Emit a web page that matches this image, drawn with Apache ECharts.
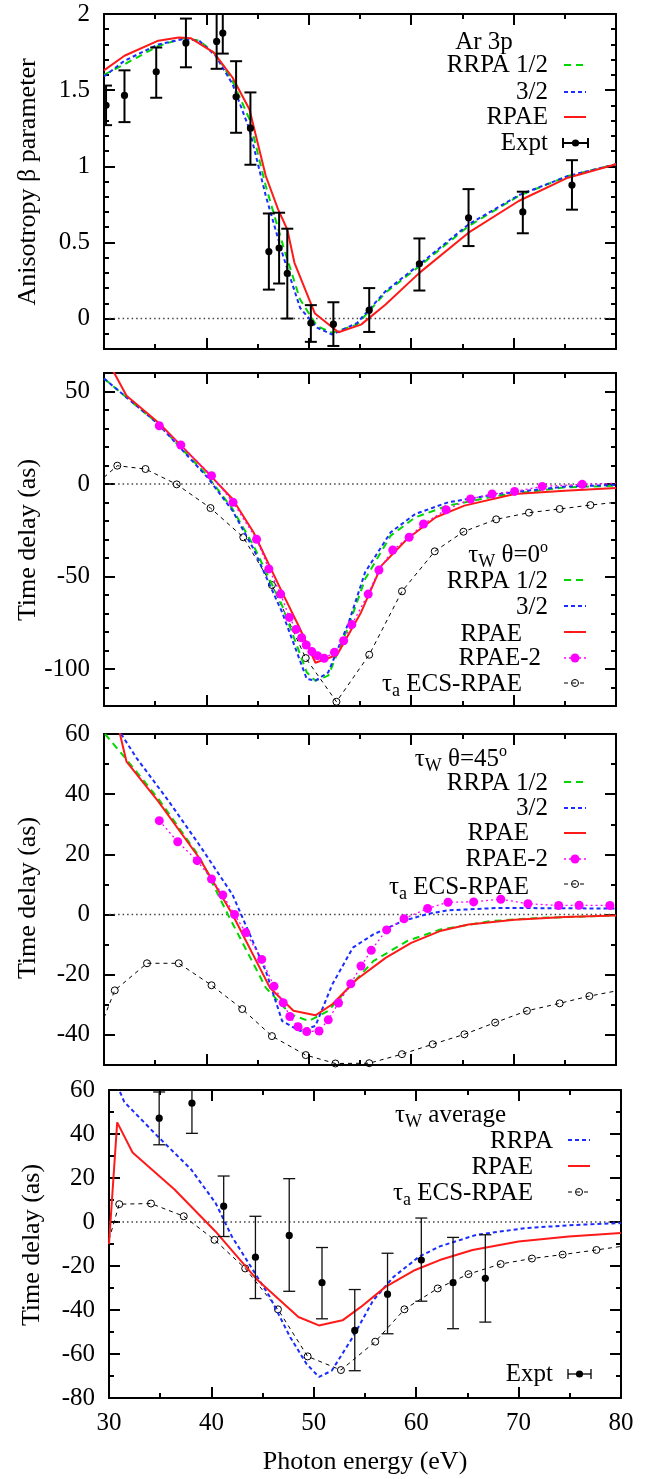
<!DOCTYPE html>
<html>
<head>
<meta charset="utf-8">
<script src="https://cdn.jsdelivr.net/npm/echarts@6/dist/echarts.min.js"></script>
<style>
  html, body { margin: 0; padding: 0; background: #fff; }
  #chart { width: 650px; height: 1479px; }
</style>
</head>
<body>
<div id="chart"></div>
<script>
// ---------- Panel 1: anisotropy parameter beta ----------
const b1_rpae_E  = [30, 32, 35.3, 37.3, 38.5, 40.7, 42.55, 44.2, 45.8, 47.0, 47.9, 48.6, 50.6, 52.9, 55.1, 57.5, 60.8, 65.6, 70.5, 75.3, 80];
const b1_rpae    = [1.63, 1.726, 1.825, 1.846, 1.84, 1.748, 1.583, 1.375, 0.936, 0.717, 0.585, 0.366, 0.033, -0.09, -0.04, 0.092, 0.30, 0.564, 0.772, 0.925, 1.013];
const b1_rrpa_E  = [30, 32, 35.3, 37.7, 39.3, 40.9, 42.55, 44.2, 45.8, 47.5, 49.15, 50.8, 52.3, 54.7, 57.5, 60.8, 65.6, 70.5, 75.3, 80];
const b1_rrpa12  = [1.60, 1.67, 1.79, 1.84, 1.825, 1.737, 1.56, 1.31, 0.87, 0.476, 0.125, -0.05, -0.094, -0.04, 0.17, 0.344, 0.607, 0.805, 0.936, 1.013];
const b1_rrpa32  = [1.59, 1.693, 1.80, 1.835, 1.825, 1.726, 1.54, 1.243, 0.805, 0.41, 0.07, -0.06, -0.105, -0.03, 0.18, 0.355, 0.618, 0.81, 0.936, 1.013];
const b1_expt_E  = [30.2, 32.0, 35.1, 38.0, 41.0, 41.6, 42.9, 44.3, 46.1, 47.1, 47.9, 50.2, 52.4, 55.9, 60.8, 65.6, 70.9, 75.7];
const b1_expt    = [1.40, 1.465, 1.62, 1.81, 1.82, 1.875, 1.456, 1.25, 0.44, 0.463, 0.296, -0.03, -0.037, 0.055, 0.36, 0.662, 0.70, 0.877];
const b1_expt_lo = [1.27, 1.29, 1.45, 1.65, 1.64, 1.74, 1.22, 1.01, 0.19, 0.23, 0.0, -0.153, -0.18, -0.088, 0.184, 0.476, 0.56, 0.715];
const b1_expt_hi = [1.53, 1.63, 1.78, 1.97, 2.05, 2.05, 1.69, 1.485, 0.69, 0.695, 0.59, 0.088, 0.107, 0.2, 0.526, 0.85, 0.833, 1.04];
const b1_ticks   = [0, 0.5, 1, 1.5, 2];

// ---------- Panel 2: Wigner time delay, theta = 0 ----------
const d0_rpae_E  = [30.5, 31.0, 32.2, 35.3, 40.1, 42.55, 44.6, 47.4, 49.0, 50.65, 52.75, 55.1, 57.1, 59.6, 62.4, 65.2, 70.1, 75.0, 80];
const d0_rpae    = [65, 60, 47.7, 33.3, 6.3, -8.1, -26.1, -58.6, -76.6, -96.6, -92.4, -69.4, -44.1, -29.7, -18.0, -11.7, -5.4, -3.6, -2.2];
const d0_rrpa_E  = [30, 32.2, 35.3, 40.1, 42.55, 44.6, 47.4, 49.8, 50.65, 51.9, 53.9, 55.5, 58, 60.4, 63.6, 68.5, 75, 80];
const d0_rrpa12  = [57, 46.8, 32.4, 4.5, -13.5, -33.3, -65.8, -101.8, -106.3, -103.6, -76.6, -51.4, -27.9, -18.0, -11.7, -6.3, -1.8, -0.9];
const d0_rrpa32  = [57, 46.8, 32.4, 3.6, -14.4, -35.1, -69.4, -105.4, -106.3, -101.8, -74.8, -47.7, -26.1, -16.2, -9.9, -5.4, -1.4, -0.5];
const d0_rpae2_E = [35.4, 37.5, 40.5, 42.6, 44.9, 46.1, 47.25, 48.1, 48.75, 49.3, 49.75, 50.3, 50.85, 51.5, 52.5, 53.4, 54.2, 55.8, 56.85, 58.2, 59.8, 61.2, 63.4, 65.8, 67.9, 70.1, 72.8, 76.7, 80];
const d0_rpae2   = [31.5, 21.1, 4.5, -9.9, -29.9, -45.9, -59.5, -72.1, -78.6, -83.1, -87.0, -90.6, -92.8, -94.2, -91.0, -84.7, -76.0, -59.5, -46.5, -35.7, -28.8, -21.6, -13.9, -8.1, -5.4, -4.0, -1.3, -0.2, 0.4];
const d0_ecs_E   = [30, 31.3, 34.05, 37.1, 40.4, 43.6, 46.4, 49.7, 52.7, 55.9, 59.1, 62.3, 65.1, 68.3, 71.5, 74.5, 77.5, 80];
const d0_ecs     = [3.6, 9.9, 8.1, -0.2, -13.0, -28.8, -54.6, -94.1, -117.7, -92.3, -58.0, -36.4, -25.8, -19.1, -15.5, -13.5, -11.4, -9.9];
const d0_ticks   = [-100, -50, 0, 50];

// ---------- Panel 3: Wigner time delay, theta = 45 ----------
const d45_rpae_E  = [31.0, 32.2, 35.3, 39.3, 42.55, 46.2, 48.5, 50.65, 52.3, 54.7, 57.5, 60, 62.8, 65.6, 70.1, 75, 80];
const d45_rpae    = [68, 50.8, 37.6, 18.8, 0, -24.3, -32.0, -33.5, -29.8, -21.5, -14.4, -9.4, -5.5, -3.3, -1.7, -0.8, -0.3];
const d45_rrpa12_E = [30.1, 32.2, 35.3, 39.3, 42.1, 45.8, 48.2, 50, 51.9, 53.9, 56.3, 59.6, 62.8, 67.7, 72.5, 80];
const d45_rrpa12  = [60, 51.5, 38.5, 19.3, 0, -24.3, -33.1, -35.4, -32.0, -24.3, -15.5, -8.8, -5.0, -2.2, -1.1, -0.3];
const d45_rrpa32_E = [31.3, 33.2, 36.1, 39.3, 42.55, 45.8, 47.4, 49.15, 50.65, 52.3, 54.3, 56.3, 59.15, 61.6, 63.6, 68.5, 80];
const d45_rrpa32  = [62, 51.9, 38.7, 23.2, 6.6, -18.8, -35.4, -38.7, -37.0, -23.2, -11.0, -6.6, -2.2, 0.2, 1.4, 2.2, 2.0];
const d45_rpae2_E = [35.4, 37.2, 39.1, 40.5, 41.6, 42.75, 43.85, 45.4, 46.6, 47.5, 48.15, 48.95, 49.8, 51.0, 51.9, 52.9, 54.1, 55.1, 56.1, 57.6, 59.3, 61.6, 63.6, 66.1, 68.75, 71.4, 74.4, 76.4, 79.4];
const d45_rpae2   = [31.2, 24.2, 17.9, 11.8, 6.5, 0, -6.0, -14.9, -23.8, -29.3, -33.9, -37.3, -38.9, -38.7, -35.0, -29.4, -23.0, -17.1, -11.9, -5.1, -1.4, 2.0, 4.1, 4.2, 5.1, 3.6, 3.0, 3.1, 3.0];
const d45_ecs_E   = [30, 31.05, 34.2, 37.3, 40.5, 43.5, 46.4, 49.7, 52.6, 55.9, 59.1, 62.1, 65.2, 68.2, 71.3, 74.5, 77.4, 80];
const d45_ecs     = [-34.3, -25.2, -16.2, -16.2, -23.5, -31.4, -40.4, -46.7, -49.5, -49.4, -46.4, -43.1, -39.8, -35.9, -32.0, -29.5, -27.1, -25.4];
const d45_ticks   = [-40, -20, 0, 20, 40, 60];

// ---------- Panel 4: angle-averaged time delay ----------
const av_rpae_E = [30, 30.8, 32.3, 36.4, 40.4, 44.5, 48.5, 50.5, 52.8, 54.6, 57.0, 59.9, 62.3, 65.5, 70.0, 74.9, 80];
const av_rpae   = [-10, 45.3, 31.6, 14.8, -4.3, -26.4, -43.2, -47.0, -44.7, -38.6, -29.5, -21.8, -17.3, -12.7, -8.9, -6.6, -5.0];
const av_rrpa_E = [30.8, 31.5, 34.7, 38.0, 40.4, 42.0, 43.65, 45.7, 47.7, 49.3, 50.5, 51.75, 53.8, 55.8, 57.8, 60.3, 62.3, 65.9, 70.8, 76.1, 80];
const av_rrpa   = [62, 54.5, 39.2, 24.0, 8.7, -6.6, -18.8, -34.0, -52.4, -64.6, -70.4, -67.6, -52.4, -35.6, -24.9, -15.7, -11.1, -5.8, -2.7, -1.2, -0.5];
const av_ecs_E  = [30, 31.0, 34.1, 37.3, 40.3, 43.3, 46.5, 49.4, 52.65, 56.0, 58.85, 62.1, 65.1, 68.25, 71.3, 74.3, 77.6, 80];
const av_ecs    = [-8, 8.1, 8.4, 2.6, -8.1, -21.1, -39.7, -61.1, -67.3, -54.4, -39.7, -30.2, -23.7, -19.1, -16.6, -14.8, -12.7, -11.1];
const av_expt_E  = [34.9, 38.1, 41.2, 44.3, 47.6, 50.8, 54.0, 57.2, 60.5, 63.6, 66.75];
const av_expt    = [47.2, 54.0, 7.2, -16.0, -6.1, -27.6, -49.3, -32.8, -17.3, -27.6, -25.6];
const av_expt_lo = [35.1, 40.3, -6.6, -34.8, -31.5, -44.0, -67.6, -50.8, -36.0, -48.5, -45.5];
const av_expt_hi = [59.1, 62, 20.9, 2.6, 19.7, -11.6, -30.7, -14.2, 1.8, -7.0, -5.8];
const av_ticks   = [-80, -60, -40, -20, 0, 20, 40, 60];

const energyTicks = [30, 40, 50, 60, 70, 80];
const zeroLine_E = [30.5, 79.5];

// ---------- styling ----------
const FONT = 'Liberation Serif';
const FS = 25;
const C_GREEN = '#00d800', C_BLUE = '#1a2cff', C_RED = '#ff1a1a', C_MAG = '#ff00ff';
const DASH_GREEN = [7, 5], DASH_BLUE = [4, 3];

// plot frames (pixels)
const grids = [
  { left: 104, top: 14,   width: 512, height: 335 },
  { left: 104, top: 373,  width: 512, height: 333 },
  { left: 104, top: 734,  width: 512, height: 331 },
  { left: 109, top: 1090, width: 512, height: 308 }
];
const yRanges = [
  { min: -0.2, max: 2,  minor: 0.1, majors: b1_ticks },
  { min: -120, max: 60, minor: 10,  majors: d0_ticks },
  { min: -50,  max: 60, minor: 10,  majors: d45_ticks },
  { min: -80,  max: 60, minor: 10,  majors: av_ticks }
];

const pairs = (xs, ys) => xs.map((x, i) => [x, ys[i]]);
const rows = (xs, ys, lo, hi) => xs.map((x, i) => [x, ys[i], lo[i], hi[i]]);

const xAxes = [], yAxes = [];
grids.forEach((g, gi) => {
  ['bottom', 'top'].forEach(pos => {
    xAxes.push({
      type: 'value', gridIndex: gi, position: pos, min: 30, max: 80, interval: 10,
      axisLine: { show: true, onZero: false, lineStyle: { color: '#000', width: 2 } },
      axisTick: { show: true, inside: true, length: 11, lineStyle: { color: '#000', width: 2 } },
      minorTick: { show: true, splitNumber: 2, length: 5, lineStyle: { color: '#000', width: 2 } },
      splitLine: { show: false }, minorSplitLine: { show: false },
      axisLabel: {
        show: gi === 3 && pos === 'bottom', margin: 13,
        fontFamily: FONT, fontSize: FS, color: '#000',
        customValues: energyTicks
      }
    });
  });
  const r = yRanges[gi];
  ['left', 'right'].forEach(pos => {
    // labelled major ticks and the frame edge
    yAxes.push({
      type: 'value', gridIndex: gi, position: pos, min: r.min, max: r.max,
      axisLine: { show: true, onZero: false, lineStyle: { color: '#000', width: 2 } },
      axisTick: { show: true, inside: true, length: 11, customValues: r.majors, lineStyle: { color: '#000', width: 2 } },
      splitLine: { show: false },
      axisLabel: {
        show: pos === 'left', customValues: r.majors, margin: 14,
        fontFamily: FONT, fontSize: FS, color: '#000',
        formatter: v => String(v)
      }
    });
    // short minor ticks
    yAxes.push({
      type: 'value', gridIndex: gi, position: pos, min: r.min, max: r.max, interval: r.minor,
      axisLine: { show: false, onZero: false },
      axisTick: { show: true, inside: true, length: 5, lineStyle: { color: '#000', width: 2 } },
      splitLine: { show: false },
      axisLabel: { show: false }
    });
  });
});

const ax = gi => ({ xAxisIndex: gi * 2, yAxisIndex: gi * 4 });

function zeroSeries(gi, xs) {
  return Object.assign({
    type: 'line', data: pairs(xs, [0, 0]), symbol: 'none', silent: true, z: 1,
    lineStyle: { color: '#444', width: 1.5, type: [1.5, 3] }
  }, ax(gi));
}
function solid(gi, xs, ys, color) {
  return Object.assign({
    type: 'line', data: pairs(xs, ys), symbol: 'none', z: 4,
    lineStyle: { color, width: 2, type: 'solid' }
  }, ax(gi));
}
function dashed(gi, xs, ys, color, dash, z) {
  return Object.assign({
    type: 'line', data: pairs(xs, ys), symbol: 'none', z: z || 3,
    lineStyle: { color, width: 2, type: dash }
  }, ax(gi));
}
function rpae2(gi, xs, ys, lastBare) {
  const n = xs.length;
  return Object.assign({
    type: 'line', data: pairs(xs, ys), z: 5, showAllSymbol: true,
    symbol: (v, p) => (lastBare && p.dataIndex === n - 1) ? 'none' : 'circle',
    symbolSize: 9,
    itemStyle: { color: C_MAG },
    lineStyle: { color: C_MAG, width: 1.3, type: [2, 3] }
  }, ax(gi));
}
function ecs(gi, xs, ys) {
  const n = xs.length;
  return Object.assign({
    type: 'line', data: pairs(xs, ys), z: 2, showAllSymbol: true,
    symbol: (v, p) => (p.dataIndex === 0 || p.dataIndex === n - 1) ? 'none' : 'circle',
    symbolSize: 7,
    itemStyle: { color: 'rgba(0,0,0,0)', borderColor: '#000', borderWidth: 1 },
    lineStyle: { color: '#000', width: 1, type: [4, 4] }
  }, ax(gi));
}
function errorBars(gi, data, width, color) {
  return Object.assign({
    type: 'custom', data, clip: true, z: 6,
    encode: { x: 0, y: 1 },
    renderItem: (params, api) => {
      const x = api.value(0);
      const c = api.coord([x, api.value(1)]);
      const lo = api.coord([x, api.value(2)]);
      const hi = api.coord([x, api.value(3)]);
      const hw = 6;
      const st = { stroke: color, lineWidth: width };
      return {
        type: 'group', children: [
          { type: 'line', shape: { x1: lo[0], y1: lo[1], x2: hi[0], y2: hi[1] }, style: st },
          { type: 'line', shape: { x1: lo[0] - hw, y1: lo[1], x2: lo[0] + hw, y2: lo[1] }, style: st },
          { type: 'line', shape: { x1: hi[0] - hw, y1: hi[1], x2: hi[0] + hw, y2: hi[1] }, style: st },
          { type: 'circle', shape: { cx: c[0], cy: c[1], r: 3.6 }, style: { fill: '#000' } }
        ]
      };
    }
  }, ax(gi));
}

const series = [
  // panel 1
  zeroSeries(0, zeroLine_E),
  dashed(0, b1_rrpa_E, b1_rrpa12, C_GREEN, DASH_GREEN),
  dashed(0, b1_rrpa_E, b1_rrpa32, C_BLUE, DASH_BLUE),
  solid(0, b1_rpae_E, b1_rpae, C_RED),
  errorBars(0, rows(b1_expt_E, b1_expt, b1_expt_lo, b1_expt_hi), 2, '#000'),
  // panel 2
  zeroSeries(1, zeroLine_E),
  ecs(1, d0_ecs_E, d0_ecs),
  dashed(1, d0_rrpa_E, d0_rrpa12, C_GREEN, DASH_GREEN),
  dashed(1, d0_rrpa_E, d0_rrpa32, C_BLUE, DASH_BLUE),
  solid(1, d0_rpae_E, d0_rpae, C_RED),
  rpae2(1, d0_rpae2_E, d0_rpae2, true),
  // panel 3
  zeroSeries(2, zeroLine_E),
  ecs(2, d45_ecs_E, d45_ecs),
  dashed(2, d45_rrpa12_E, d45_rrpa12, C_GREEN, DASH_GREEN),
  dashed(2, d45_rrpa32_E, d45_rrpa32, C_BLUE, DASH_BLUE),
  solid(2, d45_rpae_E, d45_rpae, C_RED),
  rpae2(2, d45_rpae2_E, d45_rpae2, false),
  // panel 4
  zeroSeries(3, [30, 80]),
  ecs(3, av_ecs_E, av_ecs),
  dashed(3, av_rrpa_E, av_rrpa, C_BLUE, DASH_BLUE),
  solid(3, av_rpae_E, av_rpae, C_RED),
  errorBars(3, rows(av_expt_E, av_expt, av_expt_lo, av_expt_hi), 1.3, '#111')
];

// ---------- key boxes, axis titles ----------
const rich = {
  s: { fontFamily: FONT, fontSize: 18, padding: [14, 0, 0, 0] },
  p: { fontFamily: FONT, fontSize: 16, padding: [0, 0, 14, 0] }
};
function label(text, x, y, align) {
  return {
    type: 'text', x, y, z: 10,
    style: { text, align: align || 'right', verticalAlign: 'middle', fontFamily: FONT, fontSize: FS, fill: '#000', rich }
  };
}
function sampleLine(x1, x2, y, color, dash, width) {
  return { type: 'line', z: 10, shape: { x1, y1: y, x2, y2: y }, style: { stroke: color, lineWidth: width || 2, lineDash: dash || null } };
}
function sampleRpae2(x1, x2, y) {
  return [sampleLine(x1, x2, y, C_MAG, [2, 3], 1.3),
    { type: 'circle', z: 11, shape: { cx: (x1 + x2) / 2, cy: y, r: 4.5 }, style: { fill: C_MAG } }];
}
function sampleEcs(x1, x2, y) {
  return [sampleLine(x1, x2, y, '#000', [4, 4], 1),
    { type: 'circle', z: 11, shape: { cx: (x1 + x2) / 2, cy: y, r: 3.5 }, style: { fill: 'none', stroke: '#000', lineWidth: 1 } }];
}
function sampleExpt(x1, x2, y, w) {
  const st = { stroke: '#000', lineWidth: w };
  return [
    { type: 'line', z: 10, shape: { x1, y1: y, x2, y2: y }, style: st },
    { type: 'line', z: 10, shape: { x1, y1: y - 5, x2: x1, y2: y + 5 }, style: st },
    { type: 'line', z: 10, shape: { x1: x2, y1: y - 5, x2, y2: y + 5 }, style: st },
    { type: 'circle', z: 11, shape: { cx: (x1 + x2) / 2, cy: y, r: 3.6 }, style: { fill: '#000' } }
  ];
}
function yTitle(text, x, y) {
  return {
    type: 'text', x, y, rotation: Math.PI / 2, z: 10,
    style: { text, align: 'center', verticalAlign: 'middle', fontFamily: FONT, fontSize: FS + 1, fill: '#000' }
  };
}

const S1 = 564, S2 = 586;
const graphics = [
  // panel 1 key
  label('Ar 3p', 484, 42, 'center'),
  label('RRPA 1/2', 548, 65), sampleLine(S1, S2, 65, C_GREEN, DASH_GREEN),
  label('3/2', 548, 92), sampleLine(S1, S2, 92, C_BLUE, DASH_BLUE),
  label('RPAE', 548, 117), sampleLine(S1, S2, 117, C_RED),
  label('Expt', 548, 143), ...sampleExpt(563, 588, 143, 2),
  // panel 2 key
  label('τ{s|W} θ=0{p|o}', 548, 555),
  label('RRPA 1/2', 548, 581), sampleLine(S1, S2, 580, C_GREEN, DASH_GREEN),
  label('3/2', 548, 607), sampleLine(S1, S2, 606, C_BLUE, DASH_BLUE),
  label('RPAE', 522, 634), sampleLine(S1, S2, 632, C_RED),
  label('RPAE-2', 541, 658), ...sampleRpae2(S1, S2, 658),
  label('τ{s|a} ECS-RPAE', 522, 684), ...sampleEcs(S1, S2, 683),
  // panel 3 key
  label('τ{s|W} θ=45{p|o}', 507, 759),
  label('RRPA 1/2', 548, 783), sampleLine(S1, S2, 782, C_GREEN, DASH_GREEN),
  label('3/2', 548, 808), sampleLine(S1, S2, 808, C_BLUE, DASH_BLUE),
  label('RPAE', 529, 833), sampleLine(S1, S2, 833, C_RED),
  label('RPAE-2', 548, 859), ...sampleRpae2(S1, S2, 859),
  label('τ{s|a} ECS-RPAE', 529, 887), ...sampleEcs(S1, S2, 884),
  // panel 4 key
  label('τ{s|W} average', 506, 1115),
  label('RRPA', 553, 1141), sampleLine(568, 590, 1140, C_BLUE, DASH_BLUE),
  label('RPAE', 533, 1167), sampleLine(568, 590, 1166, C_RED),
  label('τ{s|a} ECS-RPAE', 533, 1193), ...sampleEcs(568, 590, 1192),
  label('Expt', 553, 1374), ...sampleExpt(568, 591, 1374, 1.3),
  // axis titles
  yTitle('Anisotropy β parameter', 28, 182),
  yTitle('Time delay (as)', 28, 540),
  yTitle('Time delay (as)', 28, 898),
  yTitle('Time delay (as)', 32, 1245),
  { type: 'text', x: 365, y: 1462, z: 10,
    style: { text: 'Photon energy (eV)', align: 'center', verticalAlign: 'middle', fontFamily: FONT, fontSize: FS + 1, fill: '#000' } }
];

const chart = echarts.init(document.getElementById('chart'), null, { renderer: 'canvas' });
chart.setOption({
  backgroundColor: '#fff',
  animation: false,
  grid: grids.map(g => Object.assign({ show: false, containLabel: false }, g)),
  xAxis: xAxes,
  yAxis: yAxes,
  series,
  graphic: graphics
});
</script>
</body>
</html>
